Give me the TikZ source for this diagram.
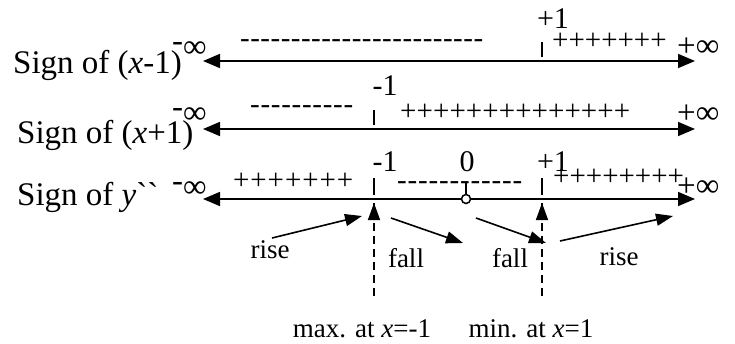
\documentclass[tikz,border=0pt]{standalone}
\usepackage{fontspec}
\setmainfont{Liberation Serif}
\newfontfamily\plainserif{Liberation Serif}[Ligatures=TeXOff]
\usetikzlibrary{arrows.meta,calc}
\ExplSyntaxOn
\NewDocumentCommand\spreadsigns{mmm}{\hbox_to_wd:nn{#3}{#2\prg_replicate:nn{#1-1}{\hfil #2}}}
\ExplSyntaxOff
\tikzset{
  axis/.style={line width=1.6pt,{Triangle[length=17pt,width=14pt]}-{Triangle[length=17pt,width=14pt]}},
  trend/.style={line width=1.6pt,-{Triangle[length=17pt,width=12pt]}},
  guide/.style={line width=1.6pt,dash pattern=on 8pt off 5pt},
  tick/.style={line width=2pt},
  signlabel/.style={anchor=base west,inner sep=0pt,font=\fontsize{33}{38}\selectfont},
  signrow/.style={anchor=base west,inner sep=0pt,font=\fontsize{29}{33}\selectfont},
  numlabel/.style={anchor=base,inner sep=0pt,font=\fontsize{30}{34}\selectfont},
  inflabel/.style={anchor=base west,inner sep=0pt,font=\fontsize{33}{38}\selectfont},
  word/.style={anchor=base,inner sep=0pt,font=\fontsize{27}{31}\selectfont},
}
\begin{document}
\begin{tikzpicture}[x=1pt,y=-1pt]
\useasboundingbox (0,0) rectangle (735,343);
% row 1
\node[signlabel] (s1) at (13,73) {Sign of (\textit{x}-1)};
\node[inflabel] (m1) at (172,57) {\raisebox{6pt}{-}∞};
\node[inflabel] (p1) at (677,56) {+∞};
\coordinate (a1l) at (203,61);
\coordinate (a1r) at (695,61);
\draw[axis] (a1l) -- (a1r);
\coordinate (t1a) at (542,42); \coordinate (t1b) at (542,57);
\draw[tick] (t1a) -- (t1b);
\node[numlabel] (n1) at (553,28) {+1};
\node[signrow] (d1) at (240,47) {\spreadsigns{24}{-}{243pt}};
\node[signrow] (q1) at (552,49.5) {\spreadsigns{7}{+}{103pt}};
% row 2
\node[signlabel] (s2) at (17,143) {Sign of (\textit{x}+1)};
\node[inflabel] (m2) at (172,123) {\raisebox{6pt}{-}∞};
\node[inflabel] (p2) at (677,123) {+∞};
\coordinate (a2l) at (203,129);
\coordinate (a2r) at (695,129);
\draw[axis] (a2l) -- (a2r);
\coordinate (t2a) at (374,110); \coordinate (t2b) at (374,125);
\draw[tick] (t2a) -- (t2b);
\node[numlabel] (n2) at (385,95) {-1};
\node[signrow] (d2) at (250,113) {\spreadsigns{10}{-}{103pt}};
\node[signrow] (q2) at (400,120.5) {\spreadsigns{14}{+}{230pt}};
% row 3
\node[signlabel] (s3) at (17,205) {Sign of \textit{y}{\plainserif ``}};
\node[inflabel] (m3) at (172,197) {\raisebox{6pt}{-}∞};
\node[inflabel] (p3) at (677,196) {+∞};
\coordinate (a3l) at (203,199);
\coordinate (a3r) at (695,199);
\draw[axis] (a3l) -- (a3r);
\coordinate (t3a) at (374,178); \coordinate (t3b) at (374,195);
\coordinate (t3c) at (542,178); \coordinate (t3d) at (542,195);
\draw[tick] (t3a) -- (t3b);
\draw[tick] (t3c) -- (t3d);
\node[numlabel] (n3a) at (385,171) {-1};
\node[numlabel] (n3b) at (467,171) {0};
\node[numlabel] (n3c) at (553,171) {+1};
\node[signrow] (q3a) at (233,189.5) {\spreadsigns{7}{+}{120pt}};
\node[signrow] (d3) at (397,189) {\spreadsigns{12}{-}{125pt}};
\node[signrow] (q3b) at (553,185.5) {\spreadsigns{8}{+}{120pt}};
\node[circle,draw,line width=1.5pt,fill=white,minimum size=9pt,inner sep=0pt] (zero) at (466,199) {};
\coordinate (zt) at (466,183);
\draw[tick] (zt) -- (zero.north);
% trends
\coordinate (r1a) at (272,238); \coordinate (r1b) at (362,216);
\coordinate (f1a) at (391,218); \coordinate (f1b) at (463,243);
\coordinate (f2a) at (476,218); \coordinate (f2b) at (546,243);
\coordinate (r2a) at (560,241); \coordinate (r2b) at (673,216);
\draw[trend] (r1a) -- (r1b);
\draw[trend] (f1a) -- (f1b);
\draw[trend] (f2a) -- (f2b);
\draw[trend] (r2a) -- (r2b);
\node[word] (w1) at (270,258) {rise};
\node[word] (w2) at (406,267) {fall};
\node[word] (w3) at (510,267) {fall};
\node[word] (w4) at (619,265) {rise};
% extrema
\coordinate (g1a) at (374,296); \coordinate (g1b) at (374,203);
\coordinate (g2a) at (542,296); \coordinate (g2b) at (542,203);
\draw[guide] (g1a) -- (g1b);
\draw[guide] (g2a) -- (g2b);
\draw[trend] ($(g1a)!0.84!(g1b)$) -- (g1b);
\draw[trend] ($(g2a)!0.84!(g2b)$) -- (g2b);
\node[word] (e1) at (362,337) {max. at \textit{x}=-1};
\node[word] (e2) at (531,337) {min. at \textit{x}=1};
\end{tikzpicture}
\end{document}
